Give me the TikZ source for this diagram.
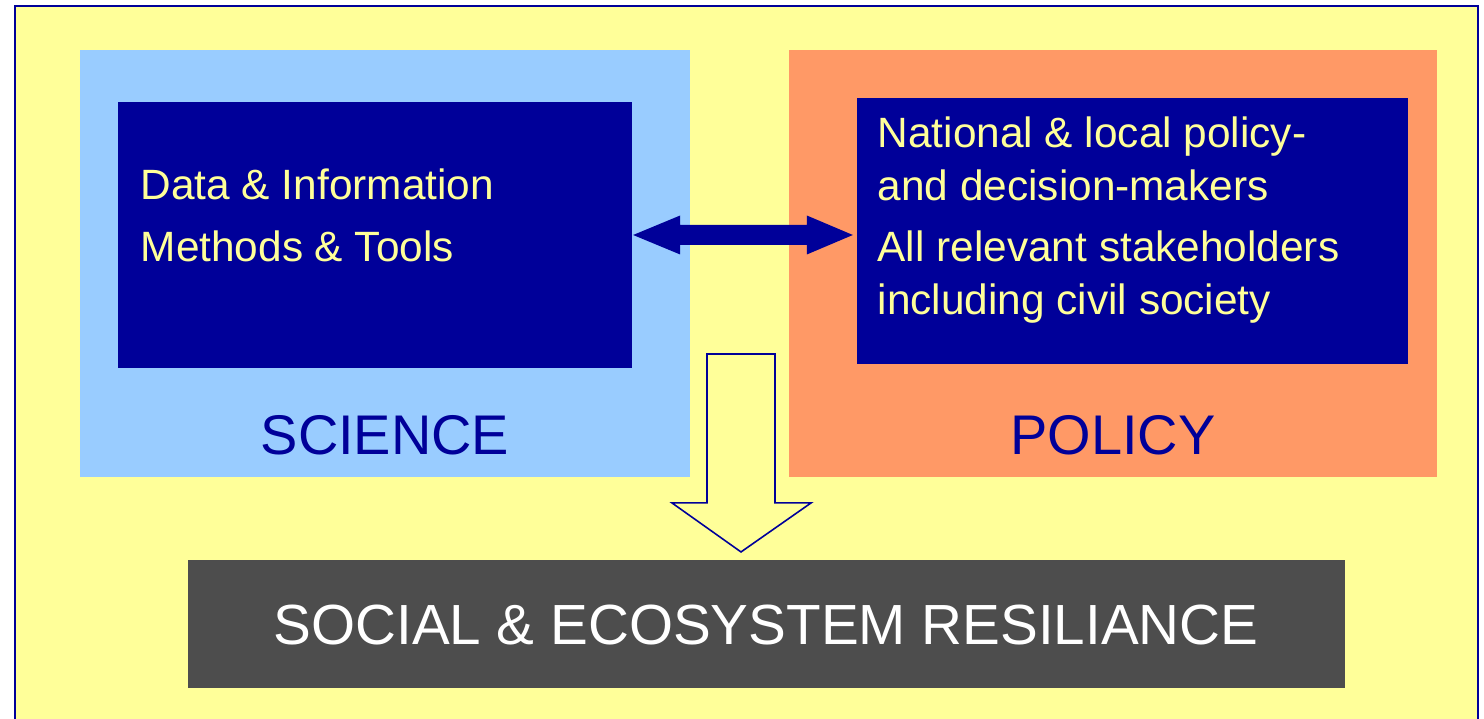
\documentclass[tikz,border=0pt]{standalone}
\usepackage{fontspec}
\setmainfont{Liberation Sans}
\usepackage{xcolor}
\usetikzlibrary{positioning,calc}
\definecolor{bgyellow}{HTML}{FFFF99}
\definecolor{sciblue}{HTML}{99CCFF}
\definecolor{polorange}{HTML}{FF9966}
\definecolor{deepblue}{HTML}{000099}
\definecolor{resgray}{HTML}{4D4D4D}
\tikzset{
  panel/.style={inner sep=0pt, outer sep=0pt, draw=none},
  bodytext/.style={inner sep=0pt, text=bgyellow, align=left, font=\fontsize{12.05}{15.1}\selectfont},
  paneltitle/.style={inner sep=0pt, text=deepblue, font=\fontsize{15.9}{18}\selectfont},
}
\begin{document}
\begin{tikzpicture}[x=0.01cm,y=-0.01cm]
  \useasboundingbox (0,0) rectangle (1484,719);
  \fill[white] (0,0) rectangle (1484,719);

  \fill[bgyellow] (15,6) rectangle (1478,719);
  \draw[deepblue, line width=0.6pt] (15,719) |- (1478,6) -- (1478,719);

  	\node[panel, fill=sciblue, minimum width=6.10cm, minimum height=4.27cm] (sci) at (385,263.5) {};
  	\node[panel, fill=polorange, minimum width=6.48cm, minimum height=4.27cm] (pol) at (1113,263.5) {};

  		\node[panel, fill=deepblue, minimum width=5.14cm, minimum height=2.66cm] (sciin) at (375,235) {};
  		\node[panel, fill=deepblue, minimum width=5.51cm, minimum height=2.66cm] (polin) at (1132.5,231) {};

  	% base anchor sits on the last line
  	\node[bodytext, anchor=base west, font=\fontsize{12.05}{17.9}\selectfont] (scitext) at (140,262) {Data \& Information\\Methods \& Tools};
  	\node[bodytext, anchor=base west] (poltexta) at (877,201) {National \& local policy-\\and decision-makers};
  	\node[bodytext, anchor=base west] (poltextb) at (877,315) {All relevant stakeholders\\including civil society};

  	\node[paneltitle, anchor=base] (scititle) at (385,455) {SCIENCE};
  	\node[paneltitle, anchor=base] (poltitle) at (1113,455) {POLICY};

  \node[panel, fill=resgray, minimum width=11.57cm, minimum height=1.28cm] (res) at (766.5,624) {};
  \node[inner sep=0pt, anchor=base, text=white, font=\fontsize{16.1}{19}\selectfont] (restext) at (766,645) {SOCIAL \& ECOSYSTEM RESILIANCE};

  % two-way link between science and policy
  \coordinate (lt) at ($(sciin.east)+(1,0)$);
  \coordinate (rt) at ($(polin.west |- lt)+(-4,0)$);
  \fill[deepblue] (lt) -- ++(47,-19.5) -- ++(0,9.5) -- ($(rt)+(-46,-10)$) -- ++(0,-9.5) -- (rt)
      -- ++(-46,19.5) -- ++(0,-9.5) -- ($(lt)+(47,10)$) -- ++(0,9.5) -- cycle;

  % block arrow down to resilience
  \coordinate (dtop) at (741,354);
  \coordinate (dtip) at ($(res.north)+(-25.5,-8)$);
  \filldraw[fill=bgyellow, draw=deepblue, line width=0.45pt, line join=miter]
      ($(dtop)+(-34,0)$) -- ($(dtop)+(34,0)$) -- ($(dtip)+(34,-49)$) -- ($(dtip)+(70,-49)$) -- (dtip)
      -- ($(dtip)+(-69,-49)$) -- ($(dtip)+(-34,-49)$) -- cycle;

\end{tikzpicture}
\end{document}
